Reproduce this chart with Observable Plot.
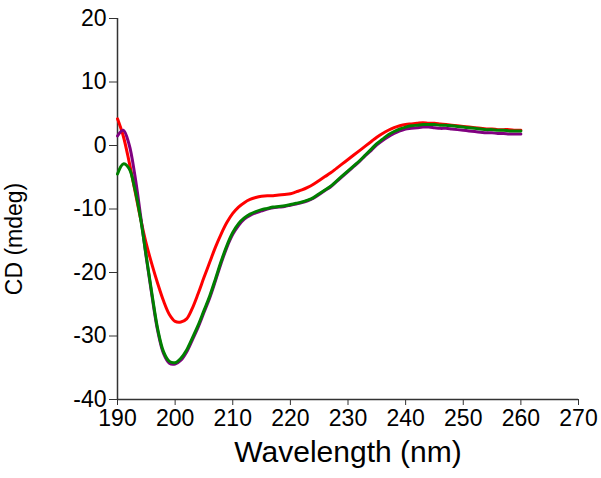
<!DOCTYPE html>
<html>
<head>
<meta charset="utf-8">
<script src="https://cdn.jsdelivr.net/npm/d3@7"></script>
<script src="https://cdn.jsdelivr.net/npm/@observablehq/plot@0.6"></script>
<style>
  html, body { margin: 0; padding: 0; background: #fff; }
</style>
</head>
<body>
<div id="chart"></div>
<script>
// Wavelength grid (nm), 1 nm steps
const wavelengths = d3.range(190, 261, 1);

// CD (mdeg), one value per nm from 190 to 260
const redCD = [
  4.2, 1.5, -2.5, -7.0, -11.5, -15.5, -18.8, -21.8, -24.5, -26.6,
  -27.7, -27.8, -27.3, -25.6, -23.3, -20.8, -18.4, -16.0, -13.9, -12.1,
  -10.7, -9.7, -9.0, -8.5, -8.2, -8.0, -7.9, -7.9, -7.8, -7.7,
  -7.6, -7.3, -7.0, -6.6, -6.1, -5.5, -4.9, -4.3, -3.6, -2.9,
  -2.2, -1.5, -0.8, -0.1, 0.6, 1.3, 1.9, 2.4, 2.8, 3.1,
  3.3, 3.4, 3.5, 3.6, 3.5, 3.5, 3.4, 3.3, 3.2, 3.1,
  3.0, 2.9, 2.8, 2.7, 2.6, 2.6, 2.5, 2.5, 2.5, 2.4,
  2.4
];
const purpleCD = [
  1.5, 2.4, 0.2, -4.6, -11.0, -17.7, -23.8, -29.3, -32.8, -34.3,
  -34.4, -33.8, -32.5, -30.6, -28.6, -26.3, -24.0, -21.3, -18.5, -16.0,
  -14.0, -12.6, -11.6, -11.0, -10.6, -10.3, -10.0, -9.8, -9.7, -9.6,
  -9.4, -9.2, -9.0, -8.7, -8.3, -7.7, -7.1, -6.5, -5.7, -4.9,
  -4.1, -3.3, -2.5, -1.6, -0.8, 0.1, 0.8, 1.4, 1.9, 2.3,
  2.6, 2.7, 2.8, 2.9, 2.9, 2.8, 2.7, 2.7, 2.6, 2.5,
  2.4, 2.3, 2.2, 2.1, 2.0, 2.0, 1.9, 1.9, 1.8, 1.8,
  1.8
];
const greenCD = [
  -4.5, -2.9, -3.6, -6.8, -11.5, -17.5, -23.5, -29.0, -32.5, -34.0,
  -34.2, -33.5, -32.2, -30.3, -28.3, -26.0, -23.7, -21.0, -18.2, -15.7,
  -13.7, -12.3, -11.4, -10.8, -10.4, -10.1, -9.9, -9.7, -9.6, -9.5,
  -9.3, -9.1, -8.9, -8.6, -8.2, -7.6, -7.0, -6.4, -5.6, -4.8,
  -4.0, -3.2, -2.4, -1.5, -0.6, 0.3, 1.0, 1.7, 2.2, 2.6,
  2.9, 3.1, 3.2, 3.3, 3.3, 3.3, 3.2, 3.2, 3.1, 3.0,
  2.9, 2.8, 2.7, 2.6, 2.5, 2.5, 2.4, 2.4, 2.3, 2.3,
  2.3
];

const seriesNames = ["red", "purple", "green"];
const seriesColors = ["#ff0000", "#a82ef0", "#137a13"];
const seriesValues = [redCD, purpleCD, greenCD];

const xTicks = [190, 200, 210, 220, 230, 240, 250, 260, 270];
const yTicks = [-40, -30, -20, -10, 0, 10, 20];
const xLabel = "Wavelength (nm)";
const yLabel = "CD (mdeg)";

const rows = seriesNames.flatMap((name, i) =>
  wavelengths.map((w, j) => ({series: name, wavelength: w, cd: seriesValues[i][j]}))
);

const chart = Plot.plot({
  width: 601,
  height: 478,
  marginLeft: 117,
  marginRight: 23,
  marginTop: 18,
  marginBottom: 79,
  style: {fontFamily: "Arial, 'Liberation Sans', sans-serif", fontSize: "23px", color: "#000", background: "#fff"},
  x: {domain: [190, 270]},
  y: {domain: [-40, 20]},
  color: {domain: seriesNames, range: seriesColors},
  marks: [
    Plot.axisX({ticks: xTicks, tickSize: 6, tickPadding: 4, label: null, fontSize: 23, stroke: "#333", tickFormat: d => String(d)}),
    Plot.axisY({ticks: yTicks, tickSize: 8, tickPadding: 3, label: null, fontSize: 23, stroke: "#333", tickFormat: d => String(d)}),
    Plot.ruleX([190], {stroke: "#333", strokeWidth: 1.5}),
    Plot.ruleY([-40], {stroke: "#333", strokeWidth: 1.5}),
    Plot.line(rows, {x: "wavelength", y: "cd", z: "series", stroke: "series", strokeWidth: 3, curve: "catmull-rom"}),
    Plot.text([xLabel], {frameAnchor: "bottom", dy: 62, fontSize: 30, fill: "#000", textAnchor: "middle"}),
    Plot.text([yLabel], {frameAnchor: "left", rotate: -90, dx: -103, dy: 30, fontSize: 23, fill: "#000", textAnchor: "middle"})
  ]
});
document.getElementById("chart").append(chart);
</script>
</body>
</html>
